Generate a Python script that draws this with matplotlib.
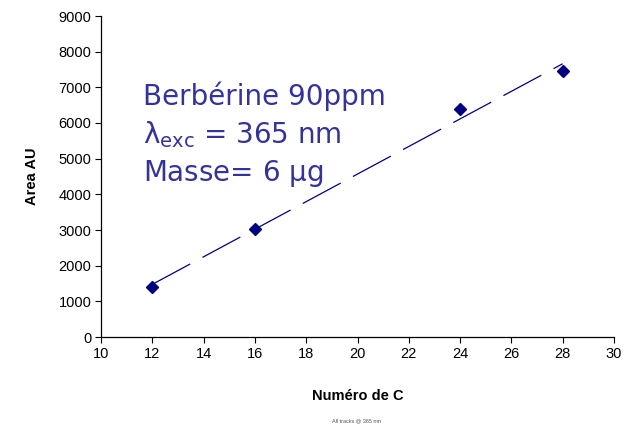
import numpy as np
import matplotlib
matplotlib.use("Agg")
import matplotlib.pyplot as plt

carbons = [12, 16, 24, 28]
area = [1410, 3020, 6385, 7460]

xticks = list(range(10, 31, 2))
yticks = list(range(0, 9001, 1000))

plt.rcParams['font.family'] = ['Liberation Sans', 'DejaVu Sans']
plt.rcParams['lines.scale_dashes'] = False
plt.rcParams['mathtext.default'] = 'regular'

W, H = 644, 436
fig = plt.figure(figsize=(W / 100, H / 100), dpi=100)
ax = fig.add_axes([101 / W, (H - 337) / H, (614 - 101) / W, (337 - 16) / H])

# linear trend line
slope, icpt = np.polyfit(carbons, area, 1)
xs = np.array([min(carbons), max(carbons)])
ax.plot(xs, slope * xs + icpt, color='#000080', lw=0.9,
        dashes=(31, 10), dash_capstyle='butt')

ax.plot(carbons, area, 'D', color='#000080', markersize=6, zorder=3)

ax.set_xlim(10, 30)
ax.set_ylim(0, 9000)
ax.set_xticks(xticks)
ax.set_yticks(yticks)
ax.tick_params(direction='out', length=4, width=0.8, labelsize=10.5, pad=3)
for s in ['top', 'right']:
    ax.spines[s].set_visible(False)
for s in ['left', 'bottom']:
    ax.spines[s].set_linewidth(0.9)

ax.set_xlabel('Numéro de C', fontsize=10.5, fontweight='bold', labelpad=20)
ax.set_ylabel('Area AU', fontsize=10.5, fontweight='bold', labelpad=14)

txtc = '#333399'
fig.text(143 / W, 1 - 105 / H, 'Berbérine 90ppm', color=txtc, fontsize=20,
         family='DejaVu Sans', va='baseline')
fig.text(143 / W, 1 - 143 / H, r'$\lambda_{exc}$ = 365 nm', color=txtc,
         fontsize=20, family='DejaVu Sans', va='baseline')
fig.text(143 / W, 1 - 181 / H, r'Masse= 6 $\mu$g', color=txtc, fontsize=20,
         family='DejaVu Sans', va='baseline')

fig.text(357 / W, 1 - 421 / H, 'All tracks @ 365 nm', fontsize=4,
         color='#555555', ha='center', va='center')

fig.savefig('out.png', dpi=100)
